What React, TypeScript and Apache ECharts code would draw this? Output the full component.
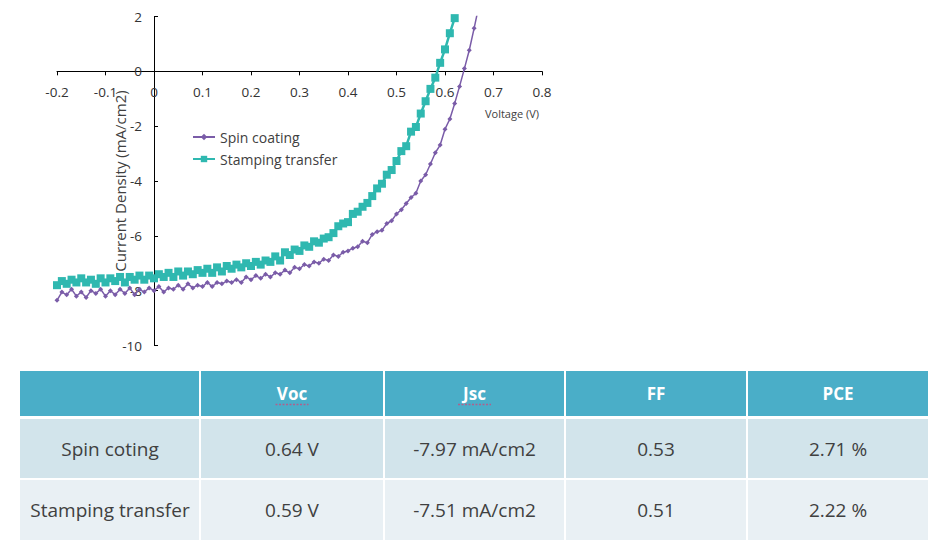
import { useEffect, useRef } from "react";
import * as echarts from "echarts";

const voltage = [
  -0.2, -0.19, -0.18, -0.17, -0.16, -0.15, -0.14, -0.13, -0.12, -0.11,
  -0.1, -0.09, -0.08, -0.07, -0.06, -0.05, -0.04, -0.03, -0.02, -0.01,
  0.0, 0.01, 0.02, 0.03, 0.04, 0.05, 0.06, 0.07, 0.08, 0.09,
  0.1, 0.11, 0.12, 0.13, 0.14, 0.15, 0.16, 0.17, 0.18, 0.19,
  0.2, 0.21, 0.22, 0.23, 0.24, 0.25, 0.26, 0.27, 0.28, 0.29,
  0.3, 0.31, 0.32, 0.33, 0.34, 0.35, 0.36, 0.37, 0.38, 0.39,
  0.4, 0.41, 0.42, 0.43, 0.44, 0.45, 0.46, 0.47, 0.48, 0.49,
  0.5, 0.51, 0.52, 0.53, 0.54, 0.55, 0.56, 0.57, 0.58, 0.59,
  0.6, 0.61, 0.62, 0.63, 0.64, 0.65, 0.66, 0.67,
];

const spinCoating = [
  -8.35, -8.05, -8.15, -7.95, -8.2, -8.05, -8.25, -8.0, -8.1, -7.95,
  -8.2, -8.0, -8.15, -7.95, -8.1, -7.9, -8.15, -7.95, -8.05, -7.9,
  -8.0, -7.85, -8.05, -7.9, -7.95, -7.8, -7.95, -7.75, -7.9, -7.8,
  -7.85, -7.7, -7.85, -7.7, -7.75, -7.65, -7.7, -7.6, -7.7, -7.5,
  -7.6, -7.45, -7.55, -7.4, -7.5, -7.35, -7.4, -7.25, -7.35, -7.15,
  -7.2, -7.05, -7.1, -6.95, -7.0, -6.85, -6.9, -6.7, -6.75, -6.6,
  -6.55, -6.45, -6.4, -6.2, -6.25, -5.95, -5.85, -5.8, -5.55, -5.45,
  -5.2, -5.05, -4.82, -4.6, -4.45, -4.0, -3.77, -3.38, -2.97, -2.69,
  -2.11, -1.74, -1.17, -0.55, 0.1, 0.77, 1.57, 2.4,
];

const stampingTransfer = [
  -7.8, -7.65, -7.75, -7.6, -7.7, -7.55, -7.7, -7.6, -7.75, -7.55,
  -7.7, -7.55, -7.65, -7.5, -7.7, -7.5, -7.6, -7.45, -7.6, -7.45,
  -7.55, -7.4, -7.5, -7.35, -7.5, -7.3, -7.45, -7.3, -7.4, -7.25,
  -7.35, -7.2, -7.35, -7.15, -7.3, -7.1, -7.2, -7.05, -7.15, -7.0,
  -7.1, -6.95, -7.05, -6.9, -6.95, -6.75, -6.9, -6.6, -6.7, -6.5,
  -6.55, -6.35, -6.4, -6.2, -6.25, -6.1, -6.05, -5.9, -5.65, -5.55,
  -5.5, -5.2, -5.12, -4.94, -4.8, -4.55, -4.27, -4.1, -3.77, -3.6,
  -3.27, -2.91, -2.73, -2.2, -2.03, -1.54, -1.09, -0.64, -0.23, 0.31,
  0.8, 1.39, 1.94,
];

const seriesNames = ["Spin coating", "Stamping transfer"];

const tableHeader = ["", "Voc", "Jsc", "FF", "PCE"];
const tableRows = [
  ["Spin coting", "0.64 V", "-7.97 mA/cm2", "0.53", "2.71 %"],
  ["Stamping transfer", "0.59 V", "-7.51 mA/cm2", "0.51", "2.22 %"],
];
// header cells marked by the spell checker in the original
const misspelledHeaders = ["Voc", "Jsc"];

const FONT = "'Open Sans', 'Noto Sans', sans-serif";

// plot layout
const GRID_LEFT = 57;
const GRID_RIGHT = 395;
const GRID_TOP = 16.5;
const GRID_BOTTOM = 206.5;
const X_MIN = -0.2;
const X_MAX = 0.8;
const Y_MIN = -10;
const Y_MAX = 2;

function buildTable(): any[] {
  const colEdges = [20, 200, 384, 565, 747, 929];
  const rowBands = [
    [371, 416],
    [419, 478],
    [480, 540],
  ];
  const rowFills = ["#4aaec8", "#d2e4eb", "#e9f0f4"];
  const els: any[] = [];
  const allRows = [tableHeader, ...tableRows];
  allRows.forEach((row, r) => {
    const [y0, y1] = rowBands[r];
    row.forEach((cell, c) => {
      const x0 = colEdges[c];
      const x1 = colEdges[c + 1];
      els.push({
        type: "rect",
        shape: {
          x: x0 + (c === 0 ? 0 : 1),
          y: y0,
          width: x1 - x0 - (c === 0 ? 1 : 2),
          height: y1 - y0,
        },
        style: { fill: rowFills[r] },
        silent: true,
      });
      if (cell) {
        const cx = (x0 + x1) / 2;
        const cy = (y0 + y1) / 2;
        els.push({
          type: "text",
          x: cx,
          y: cy,
          style: {
            text: cell,
            align: "center",
            verticalAlign: "middle",
            fontFamily: FONT,
            fontSize: r === 0 ? 17 : 19,
            fontWeight: r === 0 ? "bold" : "normal",
            fill: r === 0 ? "#ffffff" : "#404040",
          },
          silent: true,
        });
        if (r === 0 && misspelledHeaders.includes(cell)) {
          const w = cell.length * 11;
          els.push({
            type: "line",
            shape: { x1: cx - w / 2, y1: cy + 11, x2: cx + w / 2, y2: cy + 11 },
            style: { stroke: "#b0608c", lineWidth: 1.5, lineDash: [2, 1.5] },
            silent: true,
          });
        }
      }
    });
  });
  return els;
}

export default function App() {
  const ref = useRef<HTMLDivElement>(null);

  useEffect(() => {
    if (!ref.current) return;
    const chart = echarts.init(ref.current, null, { renderer: "svg" });
    const spinData = voltage.map((v, i) => [v, spinCoating[i]]);
    const stampData = stampingTransfer.map((j, i) => [voltage[i], j]);

    const plotW = 937 - GRID_LEFT - GRID_RIGHT;
    const plotH = 552 - GRID_TOP - GRID_BOTTOM;
    // move the axes onto the zero lines (with their labels)
    const xAxisOffset = -(plotH * (0 - Y_MIN)) / (Y_MAX - Y_MIN);
    const yAxisOffset = -(plotW * (0 - X_MIN)) / (X_MAX - X_MIN);

    chart.setOption({
      animation: false,
      backgroundColor: "#ffffff",
      grid: {
        left: GRID_LEFT,
        right: GRID_RIGHT,
        top: GRID_TOP,
        bottom: GRID_BOTTOM,
        containLabel: false,
        outerBoundsMode: "none",
      },
      legend: {
        data: seriesNames,
        orient: "vertical",
        left: 192,
        top: 130,
        padding: 0,
        itemWidth: 22,
        itemHeight: 8,
        itemGap: 8,
        textStyle: { fontFamily: FONT, fontSize: 14, color: "#404040" },
      },
      xAxis: {
        type: "value",
        min: X_MIN,
        max: X_MAX,
        interval: 0.1,
        position: "bottom",
        offset: xAxisOffset,
        axisLine: { onZero: false, lineStyle: { color: "#000", width: 1 } },
        axisTick: { show: true, length: 4, lineStyle: { color: "#000" } },
        axisLabel: {
          margin: 14,
          fontFamily: FONT,
          fontSize: 13.5,
          color: "#333",
          formatter: (v: number) => String(Number(v.toFixed(1))),
        },
        splitLine: { show: false },
      },
      yAxis: {
        type: "value",
        min: Y_MIN,
        max: Y_MAX,
        interval: 2,
        position: "left",
        offset: yAxisOffset,
        name: "Current Density (mA/cm2)",
        nameLocation: "middle",
        nameGap: 27,
        nameMoveOverlap: false,
        nameTextStyle: { fontFamily: FONT, fontSize: 15, color: "#404040" },
        axisLine: { onZero: false, lineStyle: { color: "#000", width: 1 } },
        axisTick: { show: true, inside: true, length: 4, lineStyle: { color: "#000" } },
        axisLabel: { margin: 12, fontFamily: FONT, fontSize: 13.5, color: "#333" },
        splitLine: { show: false },
      },
      series: [
        {
          name: seriesNames[0],
          type: "line",
          data: spinData,
          symbol: "diamond",
          symbolSize: 5,
          clip: true,
          lineStyle: { color: "#7a5ca8", width: 1.5 },
          itemStyle: { color: "#7a5ca8" },
        },
        {
          name: seriesNames[1],
          type: "line",
          data: stampData,
          symbol: "rect",
          symbolSize: 8,
          clip: true,
          lineStyle: { color: "#2fb8b0", width: 2.5 },
          itemStyle: { color: "#2fb8b0" },
        },
      ],
      graphic: [
        {
          type: "text",
          x: 539,
          y: 113,
          style: {
            text: "Voltage (V)",
            align: "right",
            verticalAlign: "middle",
            fontFamily: FONT,
            fontSize: 11,
            fill: "#404040",
          },
          silent: true,
        },
        ...buildTable(),
      ],
    });
    return () => chart.dispose();
  }, []);

  return (
    <div
      ref={ref}
      style={{ position: "fixed", left: 0, top: 0, width: 937, height: 552 }}
    />
  );
}
